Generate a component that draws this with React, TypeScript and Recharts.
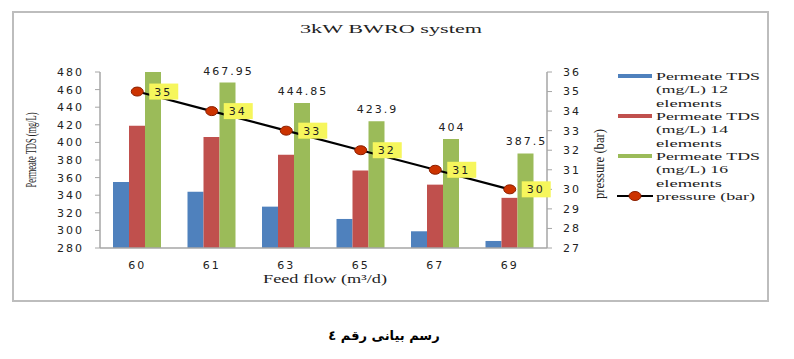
import React from 'react';
import { ComposedChart, Bar, Line, XAxis, YAxis, LabelList } from 'recharts';

const feedFlow = ['60', '61', '63', '65', '67', '69'];
const tds12 = [355, 344, 327, 313, 299, 288];
const tds14 = [419, 406, 386, 368, 352, 337];
const tds16 = [480, 467.95, 444.85, 423.9, 404, 387.5];
const pressure = [35, 34, 33, 32, 31, 30];
const tdsTicks = [280, 300, 320, 340, 360, 380, 400, 420, 440, 460, 480];
const pressureTicks = [27, 28, 29, 30, 31, 32, 33, 34, 35, 36];

const data = feedFlow.map((f, i) => ({
  flow: f,
  t12: tds12[i],
  t14: tds14[i],
  t16: tds16[i],
  p: pressure[i],
}));

const BLUE = '#4f81bd';
const RED = '#c0504d';
const GREEN = '#9bbb59';
const AXIS = '#a6a6a6';
const TICK_FONT = { fontFamily: 'DejaVu Sans', fontSize: 11, fill: '#222', letterSpacing: 2 };
const SERIF = 'Liberation Serif';

const GreenLabel = (props: any) => {
  const { x, y, width, value, index } = props;
  if (index === 0) return null;
  return (
    <text x={x + width / 2 + 1} y={y - 8} textAnchor="middle" fontFamily="DejaVu Sans" fontSize={11} fill="#222" letterSpacing={2}>
      {String(value)}
    </text>
  );
};

const PressureLabel = (props: any) => {
  const { x, y, value } = props;
  return (
    <g>
      <rect x={x + 12} y={y - 8} width={29} height={16} fill="#f6f65c" />
      <text x={x + 17} y={y + 4} fontFamily="DejaVu Sans" fontSize={11} fill="#222" letterSpacing={2}>
        {String(value)}
      </text>
    </g>
  );
};

const PressureDot = (props: any) => {
  const { cx, cy } = props;
  return <ellipse cx={cx} cy={cy} rx={6} ry={4.5} fill="#cc3300" stroke="#8a1f00" strokeWidth={1} />;
};

const legendItems = [
  { color: BLUE, lines: ['Permeate TDS', '(mg/L) 12', 'elements'], lens: [104, 72, 66] },
  { color: RED, lines: ['Permeate TDS', '(mg/L) 14', 'elements'], lens: [104, 72, 66] },
  { color: GREEN, lines: ['Permeate TDS', '(mg/L) 16', 'elements'], lens: [104, 72, 66] },
];

export default function App() {
  return (
    <div style={{ position: 'absolute', left: 0, top: 0, width: 794, height: 359, background: '#fff' }}>
      <svg width={794} height={359} style={{ position: 'absolute', left: 0, top: 0 }}>
        <rect x={13} y={12} width={755} height={289} fill="#fff" stroke="#bdbdbd" strokeWidth={2} />
      </svg>
      <div style={{ position: 'absolute', left: 0, top: 0 }}>
        <ComposedChart
          width={794}
          height={359}
          data={data}
          margin={{ top: 72, right: 187, bottom: 81, left: 40 }}
          barGap={0}
        >
          <XAxis
            dataKey="flow"
            height={30}
            axisLine={{ stroke: AXIS, strokeWidth: 1.5 }}
            tickLine={false}
            tickSize={0}
            tickMargin={13}
            tick={TICK_FONT}
          />
          <YAxis
            yAxisId="left"
            width={60}
            domain={[280, 480]}
            ticks={tdsTicks}
            interval={0}
            axisLine={{ stroke: AXIS, strokeWidth: 1.5 }}
            tickLine={{ stroke: AXIS }}
            tickSize={5}
            tickMargin={11}
            tick={TICK_FONT}
          />
          <YAxis
            yAxisId="right"
            orientation="right"
            width={60}
            domain={[27, 36]}
            ticks={pressureTicks}
            interval={0}
            axisLine={{ stroke: AXIS, strokeWidth: 1.5 }}
            tickLine={{ stroke: AXIS }}
            tickSize={5}
            tickMargin={11}
            tick={TICK_FONT}
          />
          <Bar yAxisId="left" dataKey="t12" fill={BLUE} barSize={16} isAnimationActive={false} />
          <Bar yAxisId="left" dataKey="t14" fill={RED} barSize={16} isAnimationActive={false} />
          <Bar yAxisId="left" dataKey="t16" fill={GREEN} barSize={16} isAnimationActive={false}>
            <LabelList dataKey="t16" content={GreenLabel} />
          </Bar>
          <Line
            yAxisId="right"
            dataKey="p"
            stroke="#000"
            strokeWidth={2.2}
            dot={PressureDot}
            activeDot={false}
            isAnimationActive={false}
          >
            <LabelList dataKey="p" content={PressureLabel} />
          </Line>
        </ComposedChart>
      </div>
      <svg width={794} height={359} style={{ position: 'absolute', left: 0, top: 0, pointerEvents: 'none' }}>
        <text x={391} y={33} textAnchor="middle" fontFamily={SERIF} fontSize={13} fill="#222" textLength={182} lengthAdjust="spacingAndGlyphs">
          3kW BWRO system
        </text>
        <text
          x={36}
          y={150}
          textAnchor="middle"
          transform="rotate(-90 36 150)"
          fontFamily={SERIF}
          fontSize={14}
          fill="#222"
          textLength={75}
          lengthAdjust="spacingAndGlyphs"
        >
          Permeate TDS (mg/L)
        </text>
        <text
          x={604}
          y={164}
          textAnchor="middle"
          transform="rotate(-90 604 164)"
          fontFamily={SERIF}
          fontSize={14}
          fill="#222"
          textLength={70}
          lengthAdjust="spacingAndGlyphs"
        >
          pressure (bar)
        </text>
        <text x={325} y={283} textAnchor="middle" fontFamily={SERIF} fontSize={12} fill="#222" textLength={124} lengthAdjust="spacingAndGlyphs">
          Feed flow (m³/d)
        </text>
        {legendItems.map((it, k) => {
          const y0 = 76 + k * 40;
          return (
            <g key={k}>
              <rect x={618} y={y0 - 2} width={34} height={4} fill={it.color} />
              {it.lines.map((ln, j) => (
                <text
                  key={j}
                  x={656}
                  y={y0 + 4 + j * 13.3}
                  fontFamily={SERIF}
                  fontSize={11}
                  fill="#222"
                  textLength={it.lens[j]}
                  lengthAdjust="spacingAndGlyphs"
                >
                  {ln}
                </text>
              ))}
            </g>
          );
        })}
        <line x1={617} y1={196} x2={653} y2={196} stroke="#000" strokeWidth={2} />
        <ellipse cx={635} cy={196} rx={6} ry={4.5} fill="#cc3300" stroke="#8a1f00" strokeWidth={1} />
        <text x={656} y={200} fontFamily={SERIF} fontSize={11} fill="#222" textLength={99} lengthAdjust="spacingAndGlyphs">
          pressure (bar)
        </text>
        <text x={384} y={340} textAnchor="middle" fontFamily="DejaVu Sans" fontWeight="bold" fontSize={13} fill="#000" direction="rtl">
          رسم بيانى رقم ٤
        </text>
      </svg>
    </div>
  );
}
